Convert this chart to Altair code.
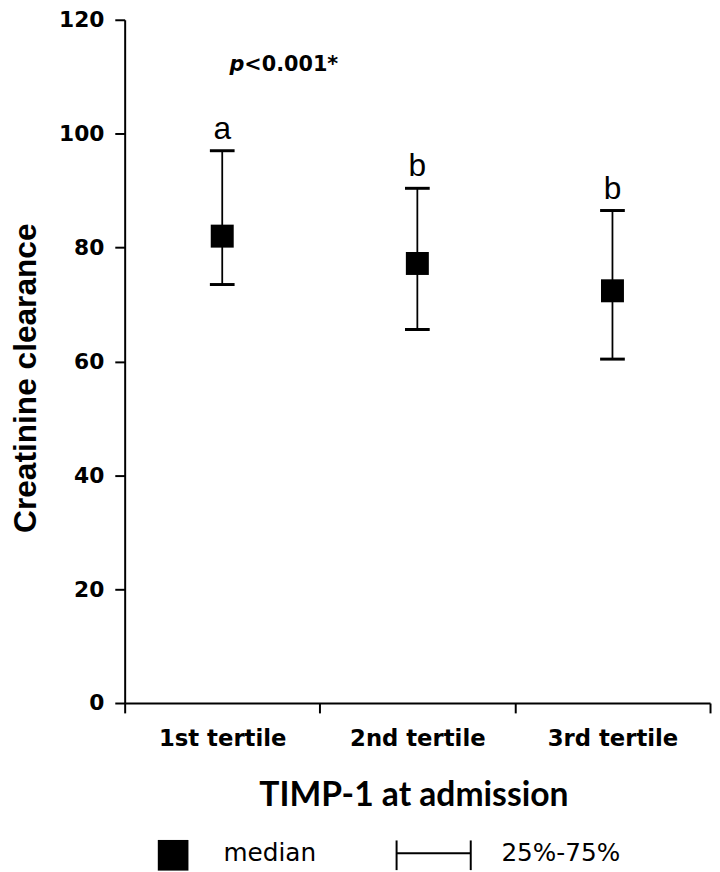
import altair as alt
import pandas as pd

# ---- data ----
tertiles = ["1st tertile", "2nd tertile", "3rd tertile"]
medians = [82.0, 77.2, 72.4]
q25 = [73.5, 65.6, 60.4]
q75 = [97.0, 90.4, 86.5]
letters = ["a", "b", "b"]
y_ticks = [0, 20, 40, 60, 80, 100, 120]
p_italic = ["p"]
p_rest = ["<0.001*"]
legend_labels = ["median", "25%-75%"]

df = pd.DataFrame({"tertile": tertiles, "median": medians,
                   "q25": q25, "q75": q75, "letter": letters})

W, H = 592, 691

xscale = alt.Scale(type="band", domain=tertiles, paddingInner=0, paddingOuter=0)
yscale = alt.Scale(domain=[0, 120], nice=False, zero=True)

xenc = alt.X("tertile:N", sort=tertiles, scale=xscale,
             axis=alt.Axis(title="TIMP-1 at admission", labelAngle=0, tickBand="extent"))


def yenc(field):
    return alt.Y(field, scale=yscale,
                 axis=alt.Axis(title="Creatinine clearance", values=y_ticks))


base = alt.Chart(df)

whisker = base.mark_rule(color="black", strokeWidth=1.8).encode(
    x=xenc, y=yenc("q25:Q"), y2="q75:Q")
cap_lo = base.mark_tick(color="black", size=25, thickness=3, orient="horizontal", opacity=1).encode(
    x=xenc, y=yenc("q25:Q"))
cap_hi = base.mark_tick(color="black", size=25, thickness=3, orient="horizontal", opacity=1).encode(
    x=xenc, y=yenc("q75:Q"))
square = base.mark_square(color="black", size=540, opacity=1, filled=True).encode(
    x=xenc, y=yenc("median:Q"))
letter_txt = base.mark_text(font="Liberation Sans", fontSize=32, color="black",
                            baseline="alphabetic", align="center", dy=-12).encode(
    x=xenc, y=yenc("q75:Q"), text="letter:N")

# p-value annotation
p1 = alt.Chart(pd.DataFrame({"t": p_italic})).mark_text(
    font="DejaVu Sans", fontWeight="bold", fontStyle="italic", fontSize=21,
    color="black", align="left", baseline="alphabetic").encode(
    x=alt.value(106), y=alt.value(52), text="t:N")
p2 = alt.Chart(pd.DataFrame({"t": p_rest})).mark_text(
    font="DejaVu Sans", fontWeight="bold", fontSize=21,
    color="black", align="left", baseline="alphabetic").encode(
    x=alt.value(121), y=alt.value(52), text="t:N")

# manual legend below the axis title
leg = alt.Chart(pd.DataFrame({"a": [legend_labels[0]], "b": [legend_labels[1]]}))
leg_sq = leg.mark_square(color="black", size=961, opacity=1, filled=True).encode(
    x=alt.value(49), y=alt.value(845))
leg_t1 = leg.mark_text(font="DejaVu Sans", fontSize=25, color="black", align="left",
                       baseline="alphabetic").encode(x=alt.value(100), y=alt.value(851), text="a:N")
leg_h = leg.mark_rule(color="black", strokeWidth=2).encode(
    x=alt.value(275), x2=alt.value(350), y=alt.value(843))
leg_v1 = leg.mark_rule(color="black", strokeWidth=2).encode(
    x=alt.value(275), y=alt.value(830), y2=alt.value(860))
leg_v2 = leg.mark_rule(color="black", strokeWidth=2).encode(
    x=alt.value(350), y=alt.value(830), y2=alt.value(860))
leg_t2 = leg.mark_text(font="DejaVu Sans", fontSize=25, color="black", align="left",
                       baseline="alphabetic").encode(x=alt.value(381), y=alt.value(851), text="b:N")

chart = alt.layer(
    whisker, cap_lo, cap_hi, square, letter_txt, p1, p2,
    leg_sq, leg_t1, leg_h, leg_v1, leg_v2, leg_t2,
).properties(
    width=W, height=H,
    autosize=alt.AutoSizeParams(type="none"),
    padding={"left": 118, "top": 7, "right": 2, "bottom": 166},
    background="white",
).configure_view(
    stroke=None
).configure_axis(
    domainColor="black", domainWidth=2, tickColor="black", tickWidth=2, tickSize=10,
    labelFont="DejaVu Sans", labelFontWeight="bold", labelColor="black",
    titleFontWeight="bold", titleColor="black", grid=False,
).configure_axisX(
    labelFontSize=23, labelBaseline="alphabetic", labelPadding=33,
    titleFont="Lato", titleFontSize=34,
    titleX=292, titleY=104, titleAlign="center", titleBaseline="alphabetic",
).configure_axisY(
    labelFontSize=22, labelPadding=11,
    titleFont="Liberation Sans", titleFontSize=32,
    titleAngle=270, titleX=-100, titleY=362, titleAlign="center", titleBaseline="middle",
)

chart.save("out.html", embed_options={"renderer": "svg", "actions": False})
